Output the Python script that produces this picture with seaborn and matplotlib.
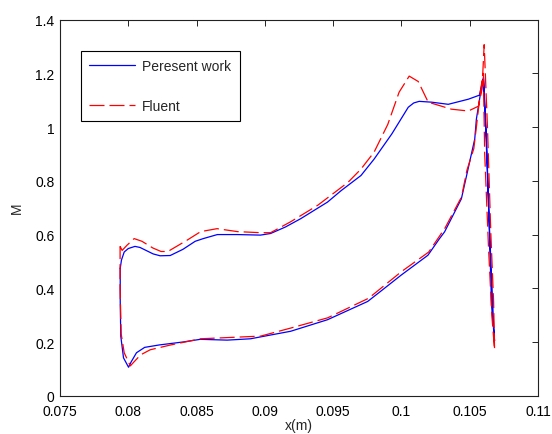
import matplotlib
matplotlib.use("Agg")
import matplotlib.pyplot as plt
import seaborn as sns
import pandas as pd

# Mach number around the blade, traced as a closed loop (upper side, tail, lower side)
present_x = [0.07941, 0.07950, 0.07970, 0.08000, 0.08049, 0.08086, 0.08182, 0.08233,
             0.08307, 0.08400, 0.08490, 0.08549, 0.08652, 0.08800, 0.08968, 0.09042,
             0.09150, 0.09262, 0.09459, 0.09557, 0.09704, 0.09800, 0.09930, 0.10050,
             0.10090, 0.10130, 0.10220, 0.10343, 0.10490, 0.10571, 0.10601,
             0.10623, 0.10645, 0.10660, 0.10682,
             0.10672, 0.10645, 0.10620, 0.10601,
             0.10576, 0.10549, 0.10537, 0.10488, 0.10439, 0.10316, 0.10279, 0.10194,
             0.09998, 0.09851, 0.09753, 0.09459, 0.09189, 0.08895, 0.08724, 0.08527,
             0.08400, 0.08226, 0.08120, 0.08060, 0.08020, 0.08002, 0.07965, 0.07945,
             0.07941, 0.07941]
present_m = [0.474, 0.505, 0.535, 0.548, 0.556, 0.552, 0.528, 0.521,
             0.522, 0.545, 0.575, 0.585, 0.600, 0.600, 0.598, 0.604,
             0.628, 0.659, 0.721, 0.763, 0.820, 0.881, 0.975, 1.074,
             1.090, 1.096, 1.093, 1.085, 1.104, 1.119, 1.185,
             0.956, 0.600, 0.337, 0.204,
             0.300, 0.620, 0.960, 1.180,
             1.116, 1.030, 0.956, 0.844, 0.733, 0.610, 0.585, 0.523,
             0.449, 0.390, 0.351, 0.283, 0.240, 0.212, 0.207, 0.210,
             0.200, 0.189, 0.180, 0.160, 0.125, 0.106, 0.141, 0.222,
             0.350, 0.474]

fluent_x = [0.07940, 0.07955, 0.07990, 0.08043, 0.08100, 0.08180, 0.08240, 0.08290,
            0.08430, 0.08530, 0.08650, 0.08800, 0.08968, 0.09042, 0.09190, 0.09387,
            0.09610, 0.09704, 0.09800, 0.09900, 0.09983, 0.10057, 0.10123, 0.10196,
            0.10365, 0.10490, 0.10564, 0.10590, 0.10606,
            0.10630, 0.10655, 0.10675, 0.10682,
            0.10662, 0.10638, 0.10610, 0.10600,
            0.10580, 0.10550, 0.10530, 0.10480, 0.10440, 0.10320, 0.10200, 0.10000,
            0.09760, 0.09460, 0.09190, 0.08970, 0.08530, 0.08310, 0.08160, 0.08090,
            0.08040, 0.08015, 0.07970, 0.07948, 0.07940, 0.07940]
fluent_m = [0.556, 0.541, 0.560, 0.585, 0.575, 0.550, 0.537, 0.537,
            0.579, 0.611, 0.622, 0.611, 0.607, 0.607, 0.648, 0.709,
            0.795, 0.844, 0.907, 1.010, 1.130, 1.190, 1.170, 1.093,
            1.067, 1.060, 1.078, 1.140, 1.307,
            1.000, 0.600, 0.350, 0.171,
            0.300, 0.550, 0.900, 1.200,
            1.140, 1.005, 0.920, 0.840, 0.740, 0.625, 0.535, 0.462,
            0.363, 0.290, 0.252, 0.222, 0.212, 0.189, 0.171, 0.152,
            0.125, 0.111, 0.160, 0.230, 0.400, 0.556]

series_names = ["Peresent work", "Fluent"]
x_ticks = [0.075, 0.08, 0.085, 0.09, 0.095, 0.1, 0.105, 0.11]
x_tick_labels = ["0.075", "0.08", "0.085", "0.09", "0.095", "0.1", "0.105", "0.11"]
y_ticks = [0, 0.2, 0.4, 0.6, 0.8, 1.0, 1.2, 1.4]
y_tick_labels = ["0", "0.2", "0.4", "0.6", "0.8", "1", "1.2", "1.4"]

df = pd.concat([
    pd.DataFrame({"x": present_x, "M": present_m, "series": series_names[0]}),
    pd.DataFrame({"x": fluent_x, "M": fluent_m, "series": series_names[1]}),
], ignore_index=True)

sns.set_style("white")
plt.rcParams["font.family"] = ["Liberation Sans", "DejaVu Sans"]
plt.rcParams["font.size"] = 10

fig = plt.figure(figsize=(5.52, 4.35), dpi=100)
ax = fig.add_axes([0.1087, 0.088, 0.8659, 0.8644])

sns.lineplot(data=df, x="x", y="M", hue="series", style="series",
             hue_order=series_names, style_order=series_names,
             palette={"Peresent work": "#0000ff", "Fluent": "#ff0000"},
             dashes={"Peresent work": "", "Fluent": (12, 4)},
             sort=False, estimator=None, linewidth=0.9, ax=ax)

ax.set_xlim(0.075, 0.11)
ax.set_ylim(0, 1.4)
ax.set_xticks(x_ticks)
ax.set_xticklabels(x_tick_labels)
ax.set_yticks(y_ticks)
ax.set_yticklabels(y_tick_labels)
ax.set_xlabel("x(m)", fontsize=10, labelpad=0)
ax.set_ylabel("M", fontsize=10, labelpad=8)

ax.tick_params(direction="in", length=4, width=0.6, top=True, right=True,
               colors="black", labelsize=10)
ax.tick_params(axis="x", pad=6)
ax.tick_params(axis="y", pad=4)
for sp in ax.spines.values():
    sp.set_color("#222222")
    sp.set_linewidth(0.8)

leg = ax.legend(loc="upper left", bbox_to_anchor=(0.044, 0.917), borderaxespad=0,
                fancybox=False, framealpha=1, edgecolor="black", fontsize=10,
                handlelength=3.3, labelspacing=1.85, borderpad=0.6,
                handletextpad=0.5)
leg.get_frame().set_linewidth(0.8)

fig.savefig("out.png", dpi=100)
plt.close(fig)
